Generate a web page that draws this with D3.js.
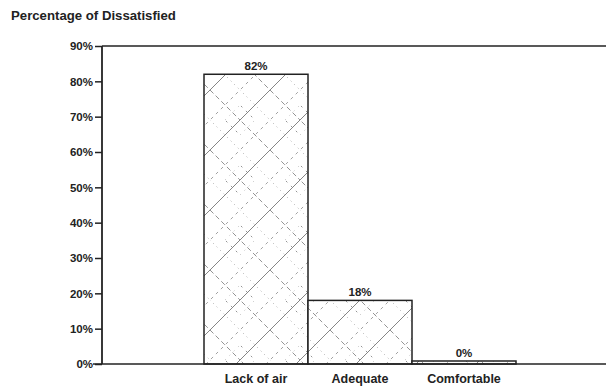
<!DOCTYPE html>
<html>
<head>
<meta charset="utf-8">
<script src="https://cdn.jsdelivr.net/npm/d3@7"></script>
<style>
  html, body { margin: 0; padding: 0; background: #fff; }
  svg { display: block; font-family: "Liberation Sans", Arial, sans-serif; }
</style>
</head>
<body>
<svg id="chart" width="606" height="387"></svg>
<script>
// Survey answers and share of dissatisfied respondents
const categories = ["Lack of air", "Adequate", "Comfortable"];
const values = [82, 18, 0];
const valueLabels = ["82%", "18%", "0%"];
const yTicks = [0, 10, 20, 30, 40, 50, 60, 70, 80, 90];
const title = "Percentage of Dissatisfied";

const svg = d3.select("#chart");
const plotLeft = 102, plotRight = 606, plotTop = 46, plotBottom = 364;

const y = d3.scaleLinear().domain([0, 90]).range([plotBottom, plotTop]);
const x = d3.scaleBand().domain(categories).range([204, 516]).padding(0);

// Hatched fill: two diagonal families, sparse solid and dotted strokes
const T = 60;
const defs = svg.append("defs");
const pat = defs.append("pattern")
  .attr("id", "hatch")
  .attr("patternUnits", "userSpaceOnUse")
  .attr("width", T).attr("height", T);
pat.append("rect").attr("width", T).attr("height", T).attr("fill", "#fff");
const hatchLines = [
  // "/" direction
  { d: `M-4,${T + 4} L${T + 4},-4`, stroke: "#666", w: 0.8, dash: null },
  { d: `M-4,${T / 2 + 4} L${T / 2 + 4},-4 M${T / 2 - 4},${T + 4} L${T + 4},${T / 2 - 4}`, stroke: "#888", w: 0.8, dash: "3,4" },
  { d: `M-4,${T / 4 + 4} L${T / 4 + 4},-4 M${3 * T / 4 - 4},${T + 4} L${T + 4},${3 * T / 4 - 4}`, stroke: "#aaa", w: 0.8, dash: "1,5" },
  // "\" direction
  { d: `M-4,-4 L${T + 4},${T + 4}`, stroke: "#777", w: 0.8, dash: "5,3" },
  { d: `M-4,${T / 2 - 4} L${T / 2 + 4},${T + 4} M${T / 2 - 4},-4 L${T + 4},${T / 2 + 4}`, stroke: "#999", w: 0.8, dash: "1,4" },
  { d: `M-4,${3 * T / 4 - 4} L${T / 4 + 4},${T + 4} M${3 * T / 4 - 4},-4 L${T + 4},${T / 4 + 4}`, stroke: "#777", w: 0.8, dash: "2,5" }
];
hatchLines.forEach(l => {
  const p = pat.append("path").attr("d", l.d)
    .attr("stroke", l.stroke).attr("stroke-width", l.w).attr("fill", "none");
  if (l.dash) p.attr("stroke-dasharray", l.dash);
});

const textColor = "#222";

// Title
svg.append("text")
  .attr("x", 11).attr("y", 20)
  .attr("font-size", 13.2).attr("font-weight", "bold").attr("fill", textColor)
  .text(title);

// Top frame line
svg.append("line")
  .attr("x1", plotLeft).attr("x2", plotRight).attr("y1", plotTop).attr("y2", plotTop)
  .attr("stroke", "#222").attr("stroke-width", 1.5);

// Y axis
const yAxis = d3.axisLeft(y).tickValues(yTicks).tickFormat(d => d + "%")
  .tickSize(7).tickPadding(2);
const gy = svg.append("g").attr("transform", `translate(${plotLeft},0)`).call(yAxis);
gy.select(".domain").attr("stroke", "#222").attr("stroke-width", 1.8)
  .attr("d", `M0,${plotTop}V${plotBottom}`);
gy.selectAll(".tick line").attr("stroke", "#222").attr("stroke-width", 1.5);
gy.selectAll(".tick text")
  .attr("font-size", 11.5).attr("font-weight", "bold").attr("fill", textColor)
  .attr("font-family", "Liberation Sans, Arial, sans-serif");

// Bars (a zero bar keeps a thin visible sliver)
const barTop = d => Math.min(y(d), plotBottom - 3);
svg.selectAll("rect.bar").data(values).join("rect")
  .attr("class", "bar")
  .attr("x", (d, i) => x(categories[i]))
  .attr("width", x.bandwidth())
  .attr("y", d => barTop(d))
  .attr("height", d => plotBottom - barTop(d))
  .attr("fill", "url(#hatch)")
  .attr("stroke", "#222").attr("stroke-width", 1.5);

// Value labels
svg.selectAll("text.val").data(values).join("text")
  .attr("class", "val")
  .attr("x", (d, i) => x(categories[i]) + x.bandwidth() / 2)
  .attr("y", d => barTop(d) - 4)
  .attr("text-anchor", "middle")
  .attr("font-size", 11.5).attr("font-weight", "bold").attr("fill", textColor)
  .text((d, i) => valueLabels[i]);

// Baseline
svg.append("line")
  .attr("x1", 93).attr("x2", plotRight).attr("y1", plotBottom).attr("y2", plotBottom)
  .attr("stroke", "#222").attr("stroke-width", 1.5);

// Category labels
svg.selectAll("text.cat").data(categories).join("text")
  .attr("class", "cat")
  .attr("x", d => x(d) + x.bandwidth() / 2)
  .attr("y", 383)
  .attr("text-anchor", "middle")
  .attr("font-size", 12.5).attr("font-weight", "bold").attr("fill", textColor)
  .text(d => d);
</script>
</body>
</html>
